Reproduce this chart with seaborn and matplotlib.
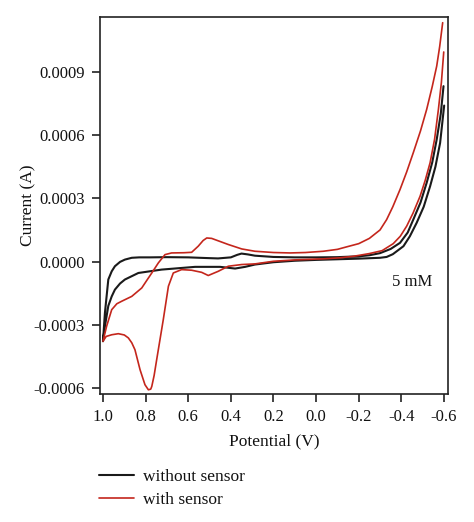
import numpy as np
import pandas as pd
import matplotlib
matplotlib.use("Agg")
import matplotlib.pyplot as plt
import seaborn as sns

# ---- data (potential in V, current in A) ----
# each trace: branch A runs 1.0 -> -0.6 (upper), branch B runs 1.0 -> -0.6 (lower)
black_a_v = [1.0, 0.991, 0.975, 0.959, 0.944, 0.92, 0.897, 0.865, 0.83, 0.78, 0.70, 0.60,
             0.52, 0.46, 0.40, 0.37, 0.35, 0.32, 0.287, 0.2, 0.1, 0.0, -0.1, -0.2, -0.25,
             -0.3, -0.35, -0.394, -0.43, -0.456, -0.49, -0.519, -0.545, -0.566, -0.585, -0.598]
black_a_i = [-3.78e-4, -2.44e-4, -8.5e-5, -4.6e-5, -2.2e-5, -1.5e-6, 9.5e-6, 1.8e-5, 2.0e-5,
             2.0e-5, 2.1e-5, 2.0e-5, 1.7e-5, 1.5e-5, 2.0e-5, 3.2e-5, 3.8e-5, 3.4e-5, 2.8e-5,
             2.2e-5, 2.0e-5, 2.0e-5, 2.1e-5, 2.5e-5, 3.0e-5, 4.0e-5, 6.0e-5, 8.9e-5, 1.38e-4,
             1.99e-4, 2.8e-4, 3.74e-4, 4.7e-4, 5.79e-4, 7.0e-4, 8.32e-4]

black_b_v = [1.0, 0.991, 0.975, 0.959, 0.944, 0.92, 0.897, 0.834, 0.725, 0.568, 0.45, 0.38,
             0.333, 0.287, 0.2, 0.1, 0.0, -0.1, -0.2, -0.3, -0.331, -0.36, -0.41, -0.44,
             -0.472, -0.505, -0.535, -0.56, -0.582, -0.601]
black_b_i = [-3.78e-4, -3.07e-4, -2.1e-4, -1.65e-4, -1.33e-4, -1.04e-4, -8.5e-5, -5.4e-5,
             -3.8e-5, -2.5e-5, -2.5e-5, -3.3e-5, -2.5e-5, -1.4e-5, -3e-6, 4e-6, 8e-6, 1.1e-5,
             1.4e-5, 1.8e-5, 2.2e-5, 3.5e-5, 7.3e-5, 1.2e-4, 1.84e-4, 2.6e-4, 3.57e-4,
             4.5e-4, 5.63e-4, 7.4e-4]

red_a_v = [1.0, 0.983, 0.959, 0.935, 0.912, 0.865, 0.818, 0.795, 0.771, 0.74, 0.709, 0.678,
           0.62, 0.584, 0.553, 0.53, 0.513, 0.49, 0.474, 0.412, 0.349, 0.287, 0.2, 0.122,
           0.05, -0.034, -0.1, -0.144, -0.2, -0.25, -0.3, -0.331, -0.36, -0.394, -0.425,
           -0.456, -0.49, -0.519, -0.545, -0.566, -0.58, -0.594]
red_a_i = [-3.78e-4, -3.07e-4, -2.28e-4, -2.0e-4, -1.88e-4, -1.65e-4, -1.25e-4, -9e-5,
           -5.4e-5, -6e-6, 3.3e-5, 4.1e-5, 4.2e-5, 4.4e-5, 7.3e-5, 1.0e-4, 1.12e-4, 1.1e-4,
           1.04e-4, 8.1e-5, 6.0e-5, 4.9e-5, 4.3e-5, 4.1e-5, 4.3e-5, 4.9e-5, 5.8e-5, 7.0e-5,
           8.5e-5, 1.1e-4, 1.5e-4, 1.99e-4, 2.6e-4, 3.42e-4, 4.25e-4, 5.16e-4, 6.2e-4,
           7.22e-4, 8.3e-4, 9.27e-4, 1.02e-3, 1.133e-3]

red_b_v = [1.0, 0.985, 0.959, 0.928, 0.9, 0.881, 0.865, 0.85, 0.826, 0.803, 0.787, 0.776,
           0.771, 0.76, 0.748, 0.717, 0.693, 0.670, 0.631, 0.584, 0.537, 0.506, 0.459,
           0.412, 0.349, 0.287, 0.2, 0.1, -0.034, -0.112, -0.175, -0.25, -0.31, -0.362,
           -0.395, -0.425, -0.455, -0.488, -0.512, -0.535, -0.556, -0.574, -0.588, -0.599]
red_b_i = [-3.78e-4, -3.55e-4, -3.47e-4, -3.42e-4, -3.48e-4, -3.62e-4, -3.85e-4, -4.18e-4,
           -5.13e-4, -5.84e-4, -6.08e-4, -6.05e-4, -5.92e-4, -5.4e-4, -4.65e-4, -2.75e-4,
           -1.17e-4, -5.4e-5, -3.8e-5, -4.1e-5, -5.1e-5, -6.6e-5, -4.6e-5, -2.2e-5, -1.4e-5,
           -1.1e-5, 1.5e-6, 8e-6, 1.3e-5, 1.8e-5, 2.5e-5, 3.8e-5, 5.2e-5, 8.5e-5, 1.2e-4,
           1.68e-4, 2.3e-4, 3.1e-4, 3.85e-4, 4.69e-4, 5.8e-4, 7.22e-4, 8.5e-4, 9.94e-4]

x_ticks = [1.0, 0.8, 0.6, 0.4, 0.2, 0.0, -0.2, -0.4, -0.6]
y_ticks = [-0.0006, -0.0003, 0.0, 0.0003, 0.0006, 0.0009]
labels = ["without sensor", "with sensor"]
colors = ["#1a1a1a", "#c4261c"]


def loop(av, ai, bv, bi):
    # closed path: end of A back to 1.0, then out along B
    v = list(reversed(av)) + list(bv[1:])
    i = list(reversed(ai)) + list(bi[1:])
    return pd.DataFrame({"potential": v, "current": i})


traces = [loop(black_a_v, black_a_i, black_b_v, black_b_i),
          loop(red_a_v, red_a_i, red_b_v, red_b_i)]

sns.set_theme(style="ticks")
plt.rcParams["font.family"] = ["Liberation Serif", "DejaVu Serif"]
plt.rcParams["axes.unicode_minus"] = False

fig = plt.figure(figsize=(4.74, 5.22), dpi=100)
ax = fig.add_axes([100/474, 1 - 394/522, 348/474, 377/522])

for df, lab, col, lw in zip(traces, labels, colors, [1.5, 1.2]):
    sns.lineplot(data=df, x="potential", y="current", sort=False, estimator=None,
                 color=col, linewidth=lw, label=lab, ax=ax)

ax.set_xlim(1.014, -0.619)
ax.set_ylim(-0.000628, 0.00116)
ax.set_xticks(x_ticks)
ax.set_xticklabels(["0.0" if v == 0 else f"{v:.1f}" for v in x_ticks])
ax.set_yticks(y_ticks)
ax.set_yticklabels(["0.0000" if v == 0 else f"{v:.4f}" for v in y_ticks])
ax.tick_params(axis="both", labelsize=12, length=6, width=1.2, pad=5,
               color="#222222", labelcolor="#111111")
for s in ax.spines.values():
    s.set_linewidth(1.2)
    s.set_color("#222222")

ax.set_xlabel("Potential (V)", fontsize=12.5, labelpad=6, color="#111111")
ax.set_ylabel("Current (A)", fontsize=12.5, labelpad=-2, color="#111111")
ax.text(-0.357, -0.000095, "5 mM", fontsize=12, ha="left", va="center", color="#111111")

handles, labs = ax.get_legend_handles_labels()
ax.get_legend().remove()
leg = fig.legend(handles, labs, loc="upper left", bbox_to_anchor=(99/474, 1 - 469/522),
                 frameon=False, fontsize=12.5, handlelength=2.0, handletextpad=0.55,
                 labelspacing=0.4, borderpad=0, borderaxespad=0)
for t in leg.get_texts():
    t.set_color("#111111")

fig.savefig("out.png", dpi=100, facecolor="white")
